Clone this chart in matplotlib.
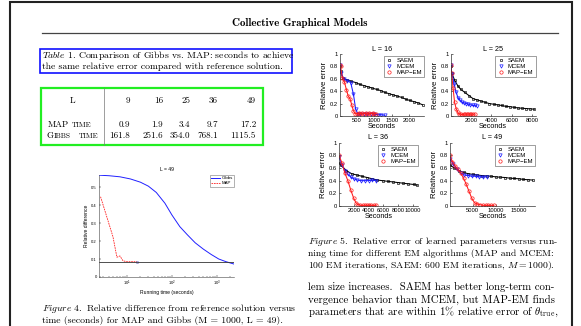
import matplotlib
matplotlib.use("Agg")
import matplotlib.pyplot as plt
from matplotlib.patches import Rectangle
from matplotlib.lines import Line2D
from matplotlib.ticker import LogLocator, NullFormatter

plt.rcParams['font.family'] = ['Liberation Sans', 'DejaVu Sans']
plt.rcParams['mathtext.fontset'] = 'cm'
plt.rcParams['axes.linewidth'] = 0.5

# ---------------- data ----------------
table_L = [9, 16, 25, 36, 49]
map_time = [0.9, 1.9, 3.4, 9.7, 17.2]
gibbs_time = [161.8, 251.6, 354.0, 768.1, 1115.5]

# Figure 4 (L = 49): relative difference vs running time
gibbs_t = [2.4, 4, 7, 12, 20, 30, 45, 70, 100, 150, 220, 330, 500, 750, 1100, 1600, 2400]
gibbs_v = [0.566, 0.563, 0.557, 0.545, 0.527, 0.505, 0.47, 0.41, 0.345, 0.28, 0.235, 0.19,
           0.155, 0.125, 0.10, 0.085, 0.072]
map_t = [2.6, 4.9, 6.0, 7.0, 8.2, 10.0, 16.7]
map_v = [0.446, 0.224, 0.11, 0.117, 0.09, 0.085, 0.085]
ref_level = 0.085

# Figure 5 panels
saem16_t = [0, 30, 100, 220, 340, 460, 580, 700, 820, 940, 1060, 1180, 1300, 1420, 1540, 1660,
            1780, 1900, 2020, 2140, 2260, 2380]
saem16_v = [0.80, 0.72, 0.61, 0.58, 0.56, 0.54, 0.51, 0.49, 0.47, 0.45, 0.43, 0.41, 0.38, 0.36,
            0.34, 0.32, 0.30, 0.27, 0.25, 0.23, 0.21, 0.18]
mcem16_t = [0, 40, 120, 220, 320, 400, 460, 520, 600, 700, 800, 900, 1000, 1100, 1200, 1300]
mcem16_v = [0.82, 0.70, 0.60, 0.57, 0.54, 0.35, 0.12, 0.04, 0.03, 0.04, 0.03, 0.04, 0.03, 0.02,
            0.02, 0.01]
mapem16_t = [0, 30, 80, 140, 200, 250, 300, 350, 400, 450, 500, 550, 600, 650, 700, 750, 800,
             850, 900, 950, 1000, 1050]
mapem16_v = [0.82, 0.80, 0.62, 0.55, 0.42, 0.32, 0.28, 0.18, 0.08, 0.04, 0.03, 0.05, 0.03, 0.05,
             0.04, 0.05, 0.03, 0.05, 0.04, 0.05, 0.04, 0.04]

saem25_t = [0, 100, 400, 700, 1000, 1400, 1800, 2200, 2600, 3000, 3400, 3800, 4200, 4600, 5000,
            5400, 5800, 6200, 6600, 7000, 7400, 7800, 8200]
saem25_v = [0.80, 0.70, 0.58, 0.49, 0.43, 0.38, 0.33, 0.28, 0.26, 0.24, 0.22, 0.20, 0.19, 0.18,
            0.17, 0.155, 0.15, 0.14, 0.13, 0.125, 0.12, 0.115, 0.11]
mcem25_t = [0, 150, 350, 550, 750, 950, 1150, 1350, 1550, 1750, 1950, 2150, 2350, 2550]
mcem25_v = [0.82, 0.68, 0.52, 0.38, 0.29, 0.25, 0.22, 0.21, 0.20, 0.19, 0.18, 0.17, 0.17, 0.16]
mapem25_t = [0, 100, 250, 400, 550, 700, 850, 1000, 1150, 1300, 1450, 1600, 1750, 1900, 2050,
             2200, 2350]
mapem25_v = [0.82, 0.70, 0.45, 0.22, 0.12, 0.06, 0.03, 0.03, 0.02, 0.03, 0.03, 0.03, 0.03,
             0.03, 0.03, 0.03, 0.03]

saem36_t = [0, 300, 1000, 1700, 2400, 3100, 3800, 4500, 5200, 5900, 6600, 7300, 8000, 8700,
            9400, 10100, 10600]
saem36_v = [0.68, 0.64, 0.56, 0.51, 0.49, 0.47, 0.45, 0.43, 0.41, 0.40, 0.39, 0.38, 0.37, 0.36,
            0.35, 0.34, 0.33]
mcem36_t = [0, 400, 800, 1200, 1600, 2000, 2500, 3000, 3500, 4000, 4500, 5000]
mcem36_v = [0.78, 0.65, 0.56, 0.50, 0.46, 0.43, 0.41, 0.40, 0.40, 0.40, 0.41, 0.40]
mapem36_t = [0, 400, 800, 1200, 1600, 2000, 2300, 2600, 2900, 3200, 3500, 3800, 4100, 4400,
             4700, 5000]
mapem36_v = [0.80, 0.68, 0.52, 0.40, 0.25, 0.12, 0.05, 0.02, 0.01, 0.01, 0.01, 0.01, 0.01,
             0.01, 0.01, 0.01]

saem49_t = [0, 1000, 2000, 3000, 4000, 5000, 6000, 7000, 8000, 9000, 10000, 11000, 12000,
            13000, 14000, 15000, 16000, 17000, 18000]
saem49_v = [0.65, 0.60, 0.56, 0.53, 0.51, 0.50, 0.49, 0.48, 0.475, 0.47, 0.46, 0.455, 0.45,
            0.44, 0.435, 0.43, 0.42, 0.415, 0.41]
mcem49_t = [0, 800, 1600, 2400, 3200, 4000, 4800, 5600, 6400, 7200, 8000]
mcem49_v = [0.75, 0.66, 0.58, 0.52, 0.49, 0.48, 0.47, 0.47, 0.46, 0.46, 0.46]
mapem49_t = [0, 600, 1200, 1800, 2400, 3000, 3600, 4200, 4800, 5400, 6000, 6600, 7200, 7800,
             8400, 9000, 9600]
mapem49_v = [0.80, 0.70, 0.63, 0.58, 0.52, 0.44, 0.34, 0.23, 0.12, 0.05, 0.03, 0.02, 0.01,
             0.01, 0.01, 0.01, 0.01]

# ---------------- figure ----------------
W, H = 581, 326
fig = plt.figure(figsize=(W / 100, H / 100), dpi=100)
fig.patch.set_facecolor('white')

page = fig.add_axes([0, 0, 1, 1])
page.set_xlim(0, W)
page.set_ylim(H, 0)
page.axis('off')

SERIF = ['cmr10', 'DejaVu Serif']
BOLD = ['cmb10', 'DejaVu Serif']


def R(x0, y0, x1, y1):
    return [x0 / W, 1 - y1 / H, (x1 - x0) / W, (y1 - y0) / H]


# page border and header
page.plot([10, 10, 572, 572], [H + 5, 2, 2, H + 5], color='#222222', lw=1.5,
          solid_joinstyle='miter')
page.text(300, 22.5, "Collective Graphical Models", family=BOLD, fontsize=7.9,
          ha='center', va='center')
page.plot([42, 558], [33, 33], color='#444444', lw=0.9)

# Table caption
page.text(42, 56, r"$\mathit{Table\ 1}$. Comparison of Gibbs vs. MAP: seconds to achieve",
          family=SERIF, fontsize=7, ha='left', va='center')
page.text(42, 67, "the same relative error compared with reference solution.",
          family=SERIF, fontsize=7, ha='left', va='center')
page.add_patch(Rectangle((40, 49), 252, 24, fill=False, edgecolor='#1010ff', lw=1.2))

# Table
page.add_patch(Rectangle((41, 88), 222, 57, fill=False, edgecolor='#22ee22', lw=1.6))
page.plot([104, 104], [88, 145], color='#777777', lw=0.5)
col_right = [130, 163, 190, 218, 256]
TF = 6.5
SC = 5.3
page.text(72, 100.5, "L", family=SERIF, fontsize=TF, ha='center', va='center')
for xr, lv, mt, gt in zip(col_right, table_L, map_time, gibbs_time):
    page.text(xr, 100.5, str(lv), family=SERIF, fontsize=TF, ha='right', va='center')
    page.text(xr, 125, f"{mt:.1f}", family=SERIF, fontsize=TF, ha='right', va='center')
    page.text(xr, 136, f"{gt:.1f}", family=SERIF, fontsize=TF, ha='right', va='center')
page.text(48, 125, "MAP", family=SERIF, fontsize=TF, ha='left', va='center')
page.text(72, 125.5, "TIME", family=SERIF, fontsize=SC, ha='left', va='center')
page.text(46.7, 136, "G", family=SERIF, fontsize=TF, ha='left', va='center')
page.text(53.5, 136.5, "IBBS", family=SERIF, fontsize=SC, ha='left', va='center')
page.text(79, 136.5, "TIME", family=SERIF, fontsize=SC, ha='left', va='center')

# Figure 4 caption
page.text(42, 308.8, r"$\mathit{Figure\ 4.}$ Relative difference from reference solution versus",
          family=SERIF, fontsize=7, ha='left', va='center')
page.text(42, 320.6, "time (seconds) for MAP and Gibbs (M = 1000, L = 49).",
          family=SERIF, fontsize=7, ha='left', va='center')

# Figure 5 caption
cap5 = [r"$\mathit{Figure\ 5.}$ Relative error of learned parameters versus run-",
        "ning time for different EM algorithms (MAP and MCEM:",
        r"100 EM iterations, SAEM: 600 EM iterations, $M=1000$)."]
for i, s in enumerate(cap5):
    page.text(308, 241 + 12.3 * i, s, family=SERIF, fontsize=7, ha='left', va='center')

body = ["lem size increases.  SAEM has better long-term con-",
        "vergence behavior than MCEM, but MAP-EM finds",
        r"parameters that are within 1% relative error of $\theta_{\rm true}$,"]
for i, s in enumerate(body):
    page.text(308, 287 + 12.5 * i, s, family=SERIF, fontsize=7.8, ha='left', va='center')

# ---------------- Figure 4 plot ----------------
ax4 = fig.add_axes(R(99, 175, 234, 277))
ax4.plot(gibbs_t, gibbs_v, color='#2020ff', lw=0.7, label='Gibbs')
ax4.plot(map_t, map_v, color='#ff2020', lw=0.6, ls=(0, (2, 1)), label='MAP')
ax4.plot(map_t[-1:], map_v[-1:], 'o', ms=1.6, mfc='none', mec='#6060c0', mew=0.4)
ax4.axhline(ref_level, color='#333333', lw=0.6)
ax4.set_xscale('log')
ax4.set_xlim(2.4, 2400)
ax4.set_ylim(0, 0.567)
ax4.set_yticks([0, 0.1, 0.2, 0.3, 0.4, 0.5])
ax4.set_yticklabels(['0', '0.1', '0.2', '0.3', '0.4', '0.5'])
ax4.xaxis.set_major_locator(LogLocator(base=10, numticks=10))
ax4.xaxis.set_minor_locator(LogLocator(base=10, subs=range(2, 10), numticks=20))
ax4.xaxis.set_minor_formatter(NullFormatter())
for sp in ['top', 'right']:
    ax4.spines[sp].set_visible(False)
for sp in ['left', 'bottom']:
    ax4.spines[sp].set_linewidth(0.4)
    ax4.spines[sp].set_color('#444444')
ax4.tick_params(which='both', direction='in', labelsize=3, width=0.3, pad=1.5)
ax4.tick_params(which='major', length=1.5)
ax4.tick_params(which='minor', length=0.9)
ax4.set_title("L = 49", fontsize=3.6, pad=3)
ax4.set_xlabel("Running time (seconds)", fontsize=3.6, labelpad=1)
ax4.set_ylabel("Relative difference", fontsize=3.6, labelpad=2)
leg4 = ax4.legend(loc='upper right', fontsize=3.2, frameon=True, fancybox=False,
                  borderpad=0.3, handlelength=2.0, handletextpad=0.3, labelspacing=0.2,
                  borderaxespad=0.0)
leg4.get_frame().set_linewidth(0.4)
leg4.get_frame().set_edgecolor('#555555')


# ---------------- Figure 5 panels ----------------
def panel(px, xmax, xticks, title, saem, mcem, mapem):
    ax = fig.add_axes(R(*px))
    ax.plot(saem[0], saem[1], '-s', color='black', mfc='none', ms=2.0, mew=0.45, lw=0.75)
    ax.plot(mcem[0], mcem[1], '-v', color='#1a1aff', mfc='none', ms=2.4, mew=0.5, lw=0.75)
    ax.plot(mapem[0], mapem[1], '-o', color='#ff1a1a', mfc='none', ms=2.4, mew=0.5, lw=0.75)
    ax.set_xlim(0, xmax)
    ax.set_ylim(0, 1)
    ax.set_xticks(xticks)
    ax.set_xticklabels([str(v) for v in xticks])
    ax.set_yticks([0, 0.2, 0.4, 0.6, 0.8, 1])
    ax.set_yticklabels(['0', '0.2', '0.4', '0.6', '0.8', '1'])
    for sp in ['top', 'right']:
        ax.spines[sp].set_visible(False)
    for sp in ['left', 'bottom']:
        ax.spines[sp].set_linewidth(0.5)
        ax.spines[sp].set_color('#333333')
    ax.tick_params(direction='in', labelsize=4.2, length=1.4, width=0.4, pad=1.2)
    ax.set_title(title, fontsize=5.2, pad=2.5)
    ax.set_xlabel("Seconds", fontsize=5.2, labelpad=0.5)
    ax.set_ylabel("Relative error", fontsize=5.6, labelpad=1.5)
    handles = [Line2D([], [], ls='none', marker='s', color='black', mfc='none', ms=2.0, mew=0.45),
               Line2D([], [], ls='none', marker='v', color='#1a1aff', mfc='none', ms=2.4, mew=0.5),
               Line2D([], [], ls='none', marker='o', color='#ff1a1a', mfc='none', ms=2.4, mew=0.5)]
    lg = ax.legend(handles, ['SAEM', 'MCEM', 'MAP\u2212EM'], loc='upper right',
                   bbox_to_anchor=(1.0, 0.97), fontsize=4.3, frameon=True, fancybox=False,
                   borderpad=0.35, handlelength=1.2, handletextpad=0.6, labelspacing=0.12,
                   borderaxespad=0.0, framealpha=1)
    lg.get_frame().set_linewidth(0.4)
    lg.get_frame().set_edgecolor('#555555')
    return ax


panel((339.5, 54, 424, 116), 2420, [500, 1000, 1500, 2000], "L = 16",
      (saem16_t, saem16_v), (mcem16_t, mcem16_v), (mapem16_t, mapem16_v))
panel((450.5, 54, 535.5, 116), 8300, [2000, 4000, 6000, 8000], "L = 25",
      (saem25_t, saem25_v), (mcem25_t, mcem25_v), (mapem25_t, mapem25_v))
panel((339, 142.7, 418, 206), 10700, [2000, 4000, 6000, 8000, 10000], "L = 36",
      (saem36_t, saem36_v), (mcem36_t, mcem36_v), (mapem36_t, mapem36_v))
panel((449.7, 142.7, 535, 206), 18500, [5000, 10000, 15000], "L = 49",
      (saem49_t, saem49_v), (mcem49_t, mcem49_v), (mapem49_t, mapem49_v))

fig.savefig("out.png", dpi=100, facecolor='white')
